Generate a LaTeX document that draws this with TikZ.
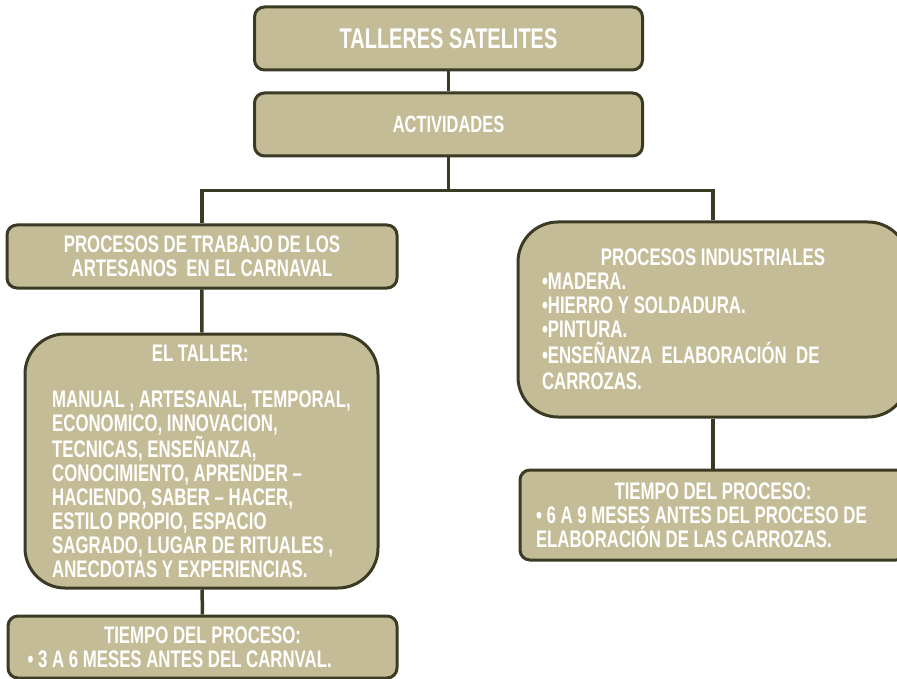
\documentclass[tikz,border=0pt]{standalone}
\usepackage{fontspec}
\setmainfont{Liberation Sans}[FakeStretch=0.70]
\usetikzlibrary{positioning}
\definecolor{boxfill}{HTML}{C4BC96}
\definecolor{boxline}{HTML}{3B3A24}

\begin{document}
\begin{tikzpicture}[
  x=1pt, y=-1pt,
  font=\bfseries\fontsize{24}{24}\selectfont,
  box/.style={draw=boxline, fill=boxfill, line width=3pt, text=white, rounded corners=10pt, inner sep=0pt},
  bigbox/.style={box, rounded corners=40pt},
  link/.style={draw=boxline, line width=3.5pt}
]
\useasboundingbox (0,0) rectangle (897,679);

\node[box, minimum width=388pt, minimum height=63pt, font=\bfseries\fontsize{28.5}{30}\selectfont] (sat) at (448.5,38.5) {TALLERES SATELITES};
\node[box, minimum width=388pt, minimum height=63pt, font=\bfseries\fontsize{23.5}{26}\selectfont] (act) at (448.5,124.5) {ACTIVIDADES};

\node[box, minimum width=390pt, minimum height=63pt, align=center] (proc) at (202,256.5) {PROCESOS DE TRABAJO DE LOS\\ARTESANOS\ \ EN EL CARNAVAL};

\node[bigbox, minimum width=353pt, minimum height=254pt, align=left] (taller) at (201.5,461) {\makebox[296pt]{EL TALLER:}\\[22pt]
MANUAL , ARTESANAL, TEMPORAL,\\ECONOMICO, INNOVACION,\\TECNICAS, ENSEÑANZA,\\CONOCIMIENTO, APRENDER --\\HACIENDO, SABER -- HACER,\\ESTILO PROPIO, ESPACIO\\SAGRADO, LUGAR DE RITUALES ,\\ANECDOTAS Y EXPERIENCIAS.};

\node[box, minimum width=389pt, minimum height=62pt, align=left] (tiempoA) at (202.5,647) {\makebox[350pt]{TIEMPO DEL PROCESO:}\\• 3 A 6 MESES ANTES DEL CARNVAL.};

\node[bigbox, minimum width=390pt, minimum height=195pt, align=left] (ind) at (713,319.5) {\makebox[342pt]{PROCESOS INDUSTRIALES}\\•MADERA.\\•HIERRO Y SOLDADURA.\\•PINTURA.\\[2pt]•ENSEÑANZA\ \ ELABORACIÓN\ \ DE\\[2pt]CARROZAS.};

\node[box, minimum width=386pt, minimum height=90pt, align=left] (tiempoB) at (713,515) {\makebox[354pt]{TIEMPO DEL PROCESO:}\\• 6 A 9 MESES ANTES DEL PROCESO DE\\ELABORACIÓN DE LAS CARROZAS.};

% connectors
\draw[link] (sat) -- (act);
\draw[link] (act.south) -- ++(0,33) -| (proc.north);
\draw[link] (act.south) -- ++(0,33) -| (ind.north);
\draw[link] (proc) -- (taller);
\draw[link] (taller) -- (tiempoA);
\draw[link] (ind) -- (tiempoB);

\end{tikzpicture}
\end{document}
